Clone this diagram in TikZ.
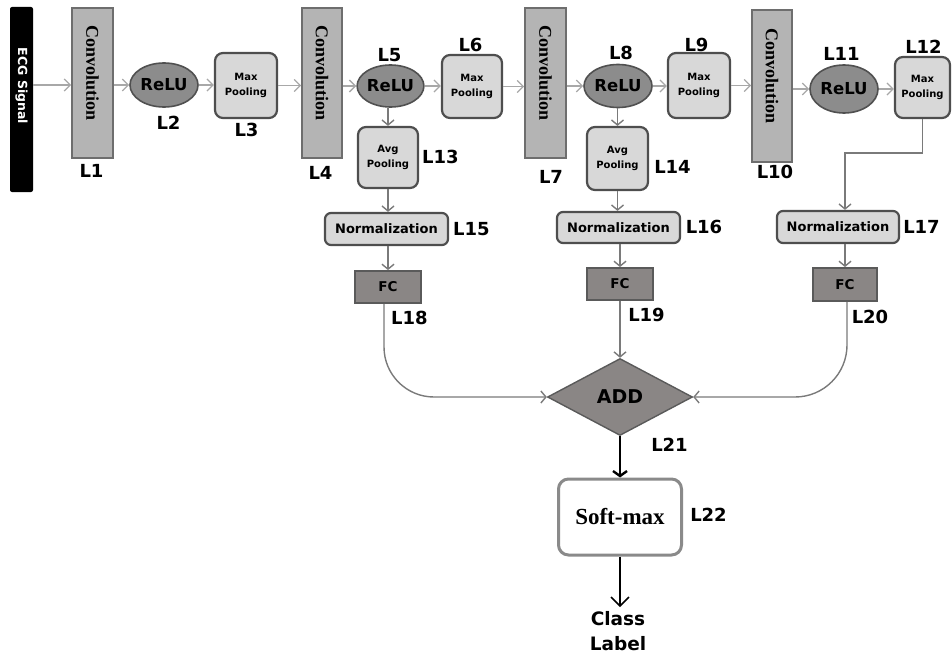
\documentclass[tikz,border=0pt]{standalone}
\usepackage{fontspec}
\usepackage{graphicx}
\usetikzlibrary{shapes.geometric,arrows.meta}
\newfontfamily\labfont{DejaVu Sans}
\newfontfamily\convfont{Liberation Serif}
\definecolor{convfill}{HTML}{B4B4B4}
\definecolor{convline}{HTML}{6E6E6E}
\definecolor{relufill}{HTML}{8C8C8C}
\definecolor{reluline}{HTML}{505050}
\definecolor{poolfill}{HTML}{D8D8D8}
\definecolor{poolline}{HTML}{4E4E4E}
\definecolor{fcfill}{HTML}{8A8685}
\definecolor{fcline}{HTML}{5A5A5A}
\definecolor{toparrow}{HTML}{A8A8A8}
\definecolor{midarrow}{HTML}{7A7A7A}
\definecolor{smline}{HTML}{8A8A8A}
\begin{document}
\begin{tikzpicture}[x=1pt,y=-1pt,
  ecgbar/.style={fill=black, rounded corners=2pt, inner sep=0pt},
  conv/.style={draw=convline, fill=convfill, line width=1.8pt, inner sep=0pt,
    font=\convfont\bfseries\fontsize{18}{20}\selectfont},
  relu/.style={ellipse, draw=reluline, fill=relufill, line width=1.6pt, inner sep=0pt,
    font=\labfont\bfseries\fontsize{16.5}{18}\selectfont},
  pool/.style={draw=poolline, fill=poolfill, line width=2.2pt, rounded corners=8pt,
    inner sep=0pt, align=center, font=\labfont\bfseries\fontsize{10}{15.5}\selectfont},
  norm/.style={draw=poolline, fill=poolfill, line width=2.2pt, rounded corners=6pt,
    inner sep=0pt, font=\labfont\bfseries\fontsize{13}{15}\selectfont},
  fc/.style={draw=fcline, fill=fcfill, line width=1.8pt, inner sep=0pt,
    font=\labfont\bfseries\fontsize{13.5}{15}\selectfont},
  lab/.style={inner sep=0pt, font=\labfont\bfseries\fontsize{18}{20}\selectfont},
  garrow/.style={draw=toparrow, line width=1.3pt, -{Straight Barb[length=6pt,width=12pt]}},
  varrow/.style={draw=midarrow, line width=1.4pt, -{Straight Barb[length=5pt,width=12pt]}},
]
\useasboundingbox (0,0) rectangle (952,655);

% ---------- top row ----------
\node[ecgbar, minimum width=23, minimum height=185] (ecg) at (21.5,99.5) {};
\node[inner sep=0pt, text=white, font=\labfont\bfseries\fontsize{12.5}{14}\selectfont]
  (ecgt) at (21.5,86) {\rotatebox{-90}{ECG Signal}};

\node[conv, minimum width=41, minimum height=150] (c1) at (92.5,83) {\rotatebox{-90}{Convolution\hspace{20pt}}};
\node[relu, minimum width=68, minimum height=44] (r2) at (164,85) {ReLU};
\node[pool, minimum width=62, minimum height=65] (m3) at (246,85.5) {Max\\Pooling};
\node[conv, minimum width=40, minimum height=150] (c4) at (322,83) {\rotatebox{-90}{Convolution\hspace{20pt}}};
\node[relu, minimum width=65, minimum height=42] (r5) at (390.5,86) {ReLU};
\node[pool, minimum width=60, minimum height=63] (m6) at (472,86.5) {Max\\Pooling};
\node[conv, minimum width=41, minimum height=150] (c7) at (545.5,83) {\rotatebox{-90}{Convolution\hspace{20pt}}};
\node[relu, minimum width=68, minimum height=43] (r8) at (618,86) {ReLU};
\node[pool, minimum width=62, minimum height=65] (m9) at (699,85.5) {Max\\Pooling};
\node[conv, minimum width=40, minimum height=152] (c10) at (772,86) {\rotatebox{-90}{Convolution\hspace{20pt}}};
\node[relu, minimum width=68, minimum height=48] (r11) at (844,89) {ReLU};
\node[pool, minimum width=55, minimum height=61] (m12) at (922.5,87.5) {Max\\Pooling};

\node[pool, minimum width=60, minimum height=61] (a13) at (388,157.5) {Avg\\Pooling};
\node[pool, minimum width=61, minimum height=63] (a14) at (617.5,158.5) {Avg\\Pooling};

% ---------- lower part ----------
\node[norm, minimum width=123, minimum height=32] (n15) at (386.5,229) {Normalization};
\node[norm, minimum width=123, minimum height=31] (n16) at (618.5,227.5) {Normalization};
\node[norm, minimum width=122, minimum height=32] (n17) at (838,227) {Normalization};

\node[fc, minimum width=66, minimum height=32] (f18) at (388,287) {FC};
\node[fc, minimum width=66, minimum height=32] (f19) at (620,284) {FC};
\node[fc, minimum width=64, minimum height=33] (f20) at (845,284.5) {FC};

\node[diamond, aspect=1.88, draw=fcline, fill=fcfill, line width=1.4pt, inner sep=0pt,
  minimum width=145, minimum height=77,
  font=\labfont\bfseries\fontsize{19}{20}\selectfont] (add) at (620,397) {ADD};

\node[draw=smline, fill=white, line width=3pt, rounded corners=10pt, inner sep=0pt,
  minimum width=123, minimum height=76,
  font=\convfont\bfseries\fontsize{23}{25}\selectfont] (sm) at (620,517) {Soft-max};

\node[inner sep=0pt, align=center, font=\labfont\bfseries\fontsize{18.5}{25}\selectfont]
  (cls) at (618,631) {Class\\Label};

% ---------- labels ----------
\node[lab] (l1)  at (91.5,171)  {L1};
\node[lab] (l2)  at (168.5,122.5) {L2};
\node[lab] (l3)  at (246.5,130) {L3};
\node[lab] (l4)  at (320.5,172.5) {L4};
\node[lab] (l5)  at (389.5,55)  {L5};
\node[lab] (l6)  at (470.5,45)  {L6};
\node[lab] (l7)  at (551,176.5) {L7};
\node[lab] (l8)  at (621,53)    {L8};
\node[lab] (l9)  at (696.5,45)  {L9};
\node[lab] (l10) at (775,171.5) {L10};
\node[lab] (l11) at (841.5,53.5) {L11};
\node[lab] (l12) at (923.5,46.5) {L12};
\node[lab] (l13) at (440.5,156.5) {L13};
\node[lab] (l14) at (672.5,166.5) {L14};
\node[lab] (l15) at (471.5,229) {L15};
\node[lab] (l16) at (704,227)   {L16};
\node[lab] (l17) at (921.5,227) {L17};
\node[lab] (l18) at (409.5,318) {L18};
\node[lab] (l19) at (646.5,315) {L19};
\node[lab] (l20) at (870,317)   {L20};
\node[lab] (l21) at (669.5,445) {L21};
\node[lab] (l22) at (708.5,515) {L22};

% ---------- connectors: top row ----------
\draw[garrow] (ecg.east |- r2.west) -- (c1.west |- r2.west);
\draw[garrow] (c1.east |- r2.west) -- (r2.west);
\draw[garrow] (r2.east) -- (m3.west |- r2.east);
\draw[garrow] (m3.east) -- (c4.west |- m3.east);
\draw[garrow] (c4.east |- r5.west) -- (r5.west);
\draw[garrow] (r5.east) -- (m6.west |- r5.east);
\draw[garrow] (m6.east) -- (c7.west |- m6.east);
\draw[garrow] (c7.east |- r8.west) -- (r8.west);
\draw[garrow] (r8.east) -- (m9.west |- r8.east);
\draw[garrow] (m9.east) -- (c10.west |- m9.east);
\draw[garrow] (c10.east |- r11.west) -- (r11.west);
\draw[garrow] (r11.east) -- (m12.west |- r11.east);

% ---------- connectors: branches ----------
\draw[varrow] (r5.south -| a13.north) -- (a13.north);
\draw[varrow] (r8.south -| a14.north) -- (a14.north);
\draw[varrow] (a13.south) -- (n15.north -| a13.south);
\draw[varrow] (a14.south) -- (n16.north -| a14.south);
\draw[varrow] (m12.south) -- ++(0,34) -| (f20.north |- n17.north);
\draw[varrow] (n15.south -| f18.north) -- (f18.north);
\draw[varrow] (n16.south -| f19.north) -- (f19.north);
\draw[varrow] (f20.north |- n17.south) -- (f20.north);

% ---------- connectors: to ADD ----------
\draw[varrow, rounded corners=50pt] ([xshift=-4pt]f18.south) |- (add.west);
\draw[varrow] (f19.south) -- (add.north);
\draw[varrow, rounded corners=52pt] ([xshift=2pt]f20.south) |- (add.east);
\draw[line width=2.4pt, black, -{Straight Barb[length=5pt,width=14pt]}] (add.south) -- (sm.north);
\draw[line width=1.6pt, black, -{Straight Barb[length=9pt,width=18pt]}] (sm.south) -- ([yshift=4pt]sm.south |- cls.north);
\end{tikzpicture}
\end{document}
